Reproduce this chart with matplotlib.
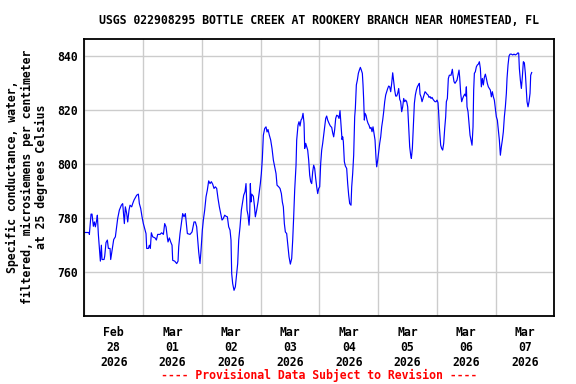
import matplotlib
matplotlib.use('Agg')
import matplotlib.pyplot as plt
import matplotlib.dates as mdates
import matplotlib.ticker as mticker
import pandas as pd

# --- data: hours since 2026-02-28 00:00, specific conductance (uS/cm) ---
hours = [
    0.15, 1.92, 2.06, 2.74, 3.14, 3.69, 4.10, 4.51, 5.05, 5.32, 5.73, 6.28, 6.55, 6.96,
    7.23, 8.05, 8.32, 8.86, 9.41, 9.82, 10.50, 10.77, 11.45, 12.00, 12.68, 13.22, 13.63,
    14.31, 15.13, 15.67, 16.35, 16.76, 17.31, 17.72, 18.26, 18.67, 19.35, 19.76, 20.30,
    21.39, 22.07, 22.48, 23.03, 23.57, 24.11, 24.66, 25.20, 25.48, 26.16, 26.57, 26.97,
    27.38, 27.93, 28.88, 29.43, 29.97, 30.92, 31.60, 32.30, 32.83, 33.37, 33.92, 34.19,
    34.74, 35.28, 35.83, 36.10, 36.92, 37.73, 38.28, 38.55, 39.09, 39.64, 40.18, 40.73,
    41.27, 42.09, 43.18, 44.00, 44.81, 45.36, 45.90, 46.31, 46.72, 47.26,
    47.67, 48.21, 48.62, 49.17, 49.71, 50.25, 50.80, 51.35, 51.89, 52.43, 52.98, 53.52,
    54.07, 54.61, 55.16, 55.70, 56.25, 56.79, 57.34, 57.88, 58.43, 58.97, 59.51, 59.92,
    60.20, 60.60, 61.15, 61.69, 62.24, 62.65, 63.06, 63.60, 64.15, 64.69, 65.10, 65.64,
    66.05, 66.46, 66.87, 67.28, 67.55, 67.82, 68.09, 68.37, 69.05, 69.46, 69.86, 70.41,
    70.95, 71.50, 71.90, 72.31, 72.72, 73.13, 73.68, 74.22, 74.63, 75.04, 75.58, 76.13,
    76.67, 77.22, 77.76, 78.31, 78.72, 79.40, 79.94, 80.49, 80.89, 81.30, 81.71, 82.12,
    82.66, 83.21, 83.62, 84.16, 84.71, 85.12, 85.52, 85.93, 86.48, 86.75, 87.29, 87.70,
    88.11, 88.52, 88.93, 89.34, 89.75, 90.02, 90.43, 90.84, 91.24, 91.65, 92.06, 92.47,
    92.88, 93.29, 93.69, 94.10, 94.51, 94.92, 95.33, 95.74, 96.15,
    96.55, 96.96, 97.37, 97.78, 98.19, 98.60, 99.00, 99.41, 99.96, 100.50, 101.05,
    101.45, 101.86, 102.27, 102.68, 103.09, 103.63, 104.04, 104.45, 104.86, 105.27,
    105.54, 105.81, 106.22, 106.63, 107.17, 107.58, 107.99, 108.40, 108.94, 109.22,
    109.62, 110.03, 110.44, 110.71, 111.12, 111.53, 111.94, 112.35, 112.76, 113.16,
    113.57, 113.85, 114.12, 114.39, 114.66, 115.07, 115.48, 115.89, 116.30, 116.71,
    117.12, 117.52, 117.93, 118.34, 118.75, 119.16, 119.43, 119.84, 120.25, 120.66,
    121.07, 121.47, 121.88, 122.29, 122.70, 123.11, 123.52, 123.93, 124.33, 124.74,
    125.15, 125.56, 125.97, 126.38, 126.78, 127.19, 127.60, 128.01, 128.42, 128.83,
    129.23, 129.64, 130.05, 130.46, 130.87, 131.28, 131.68, 132.09, 132.50, 132.91,
    133.32, 133.59, 134.00, 134.41, 134.82, 135.23, 135.64, 136.04, 136.45, 136.86,
    137.13, 137.54, 137.95, 138.36, 138.77, 139.18, 139.58, 139.99, 140.40, 140.81,
    141.22, 141.63, 142.03, 142.44, 142.85, 143.26, 143.67, 144.08, 144.48, 144.76,
    145.03,
    145.57, 145.98, 146.39, 146.80, 147.21, 147.61, 147.89, 148.30, 148.70, 149.11,
    149.79, 150.34, 150.61, 151.02, 151.43, 151.84, 152.24, 152.65, 153.06, 153.33,
    153.74, 154.15, 154.56, 154.97, 155.38, 155.78, 156.06, 156.33, 156.74, 157.15,
    157.56, 157.96, 158.37, 158.78, 159.05, 159.33, 159.73, 160.14, 160.55, 160.96,
    161.37, 161.78, 162.18, 162.59, 163.00, 163.41, 163.82, 164.23, 164.63, 165.04,
    165.45, 165.86, 166.27, 166.68, 167.09, 167.49, 167.90, 168.31, 168.72, 169.13,
    169.54, 169.95, 170.35, 170.76, 171.17, 171.58, 171.99, 172.40, 172.67, 173.08,
    173.49, 173.90, 174.45, 174.99, 175.53, 176.08, 176.62, 177.17, 177.44, 177.71,
    178.12, 178.53, 178.93, 179.34, 179.75, 180.16, 180.57, 180.84, 181.25, 181.66,
    182.07, 182.34, 182.75,
]
values = [
    774.7, 774.7, 774.0, 781.5, 781.5, 777.0, 778.6, 776.8, 779.3, 781.1, 774.0, 767.5, 764.1, 770.0,
    764.7, 764.7, 765.9, 771.0, 771.9, 768.8, 768.8, 764.7, 768.8, 772.1, 773.1, 776.8, 779.9,
    783.0, 784.8, 785.4, 778.0, 784.2, 781.7, 778.6, 783.0, 784.8, 784.2, 785.4, 786.7,
    788.5, 788.9, 785.4, 783.6, 780.5, 778.0, 776.2, 774.3, 768.8, 768.8, 770.0, 768.8,
    774.6, 773.1, 772.7, 771.9, 774.0, 774.0, 774.6, 774.0, 778.0, 776.8, 772.8, 771.2,
    772.7, 771.2, 770.0, 764.4, 764.1, 763.2, 764.1, 769.4, 774.3, 778.0, 781.7, 780.5,
    781.7, 774.3, 774.0, 774.9, 778.6, 778.6, 776.8, 771.9, 767.5, 763.2,
    768.1, 775.6, 779.3, 783.0, 787.9, 790.4, 793.8, 792.8, 793.5, 792.6, 791.0, 791.6,
    791.0, 787.3, 784.2, 781.7, 779.3, 779.9, 781.1, 780.7, 780.5, 776.8, 775.6, 771.9,
    759.5, 755.8, 753.3, 754.6, 759.5, 763.2, 771.9, 776.8, 783.0, 786.0, 788.5, 789.8,
    792.8, 783.0, 781.1, 777.4, 781.1, 792.8, 786.0, 788.9, 788.1, 784.8, 780.5, 783.0,
    786.0, 789.8, 792.8, 796.5, 802.1, 810.7, 813.2, 813.8, 811.9, 812.8, 810.7, 808.9,
    805.8, 801.5, 799.0, 796.5, 792.2, 791.6, 791.0, 789.1, 786.0, 784.2, 778.0, 774.9,
    774.3, 769.4, 765.7, 763.0, 765.1, 771.9, 780.5, 790.4, 799.6, 808.9, 814.4, 815.7,
    814.1, 816.3, 816.9, 818.8, 815.1, 805.8, 807.7, 806.4, 805.2, 801.5, 795.9, 793.5,
    792.8, 797.2, 799.6, 798.4, 794.7, 791.6, 789.1, 791.0, 791.6,
    800.2, 805.2, 807.7, 810.7, 813.8, 816.9, 817.8, 816.3, 815.1, 814.1, 813.6,
    811.6, 810.1, 812.8, 816.9, 818.1, 817.8, 816.9, 819.8, 814.4, 809.1,
    810.1, 808.3, 800.9, 799.3, 798.4, 792.8, 788.5, 785.4, 784.8, 791.6,
    796.5, 803.3, 817.5, 820.6, 829.3, 831.1, 833.6, 834.8, 835.8, 834.8,
    833.6, 829.3, 823.7, 816.3, 818.8, 818.1, 816.3, 815.1, 814.4, 813.2,
    813.6, 812.0, 813.8, 811.4, 808.9, 802.1, 799.0, 801.5, 804.6, 807.7,
    810.1, 813.8, 816.3, 819.4, 823.1, 825.6, 826.8, 828.0, 828.9, 828.6,
    826.8, 829.9, 833.8, 830.5, 827.4, 825.2, 825.2, 826.2, 828.0, 824.0,
    823.1, 819.4, 821.2, 824.3, 823.1, 823.7, 823.1, 821.2, 813.8, 806.4,
    803.3, 802.1, 805.8, 814.4, 822.5, 825.6, 827.4, 828.6, 829.3, 829.9,
    825.9, 824.9, 823.1, 824.3, 825.6, 826.8, 826.4, 825.9, 825.6, 824.7,
    825.0, 824.3, 824.7, 824.0, 823.5, 823.1, 823.1, 823.7, 822.7, 818.8,
    813.8,
    807.0, 805.8, 805.2, 807.7, 813.2, 817.5, 823.1, 824.3, 831.7, 832.9,
    832.9, 835.1, 832.9, 830.5, 829.9, 830.5, 831.1, 832.9, 834.8, 832.1,
    826.2, 823.1, 824.3, 825.2, 825.9, 825.2, 828.6, 821.2, 819.4, 815.1,
    810.7, 808.9, 807.0, 813.8, 827.4, 833.6, 834.2, 836.0, 836.7, 837.0,
    837.9, 835.4, 828.6, 831.7, 829.3, 832.1, 833.3, 831.7, 829.9, 828.6,
    828.0, 827.4, 824.9, 826.8, 824.9, 823.7, 820.6, 817.5, 816.3, 812.6,
    808.9, 803.3, 806.4, 808.9, 812.0, 817.5, 821.2, 826.2, 831.7, 836.7,
    840.0, 840.7, 840.7, 840.4, 840.7, 840.4, 840.7, 841.2, 841.0, 835.4,
    831.1, 828.0, 832.3, 837.9, 837.5, 833.6, 827.4, 823.1, 821.2, 823.1,
    826.2, 832.9, 833.9,
]
y_ticks = [760, 780, 800, 820, 840]
title = 'USGS 022908295 BOTTLE CREEK AT ROOKERY BRANCH NEAR HOMESTEAD, FL'
y_label = 'Specific conductance, water,\nfiltered, microsiemens per centimeter\nat 25 degrees Celsius'
note = '---- Provisional Data Subject to Revision ----'

start = pd.Timestamp('2026-02-28')
times = start + pd.to_timedelta(hours, unit='h')

plt.rcParams['font.family'] = 'DejaVu Sans Mono'
plt.rcParams['font.weight'] = 'bold'
fs = 8.3

fig = plt.figure(figsize=(5.76, 3.84), dpi=100)
ax = fig.add_axes([0.1464, 0.1771, 0.816, 0.7206])

ax.plot(times, values, color='#0000ff', lw=0.85)

ax.set_xlim(start, start + pd.Timedelta(days=8))
ax.set_ylim(743.8, 846.2)
ax.set_yticks(y_ticks)

# gridlines at midnight, labels at noon
ax.xaxis.set_major_locator(mdates.DayLocator())
ax.xaxis.set_major_formatter(mticker.NullFormatter())
ax.xaxis.set_minor_locator(mdates.HourLocator(byhour=[12]))
ax.xaxis.set_minor_formatter(mdates.DateFormatter('%b\n%d\n%Y'))
ax.tick_params(axis='both', which='both', length=0, labelsize=fs)
ax.tick_params(axis='x', which='minor', pad=7)
ax.tick_params(axis='y', pad=5)
ax.grid(True, which='major', color='#cccccc', lw=1.0)
for sp in ax.spines.values():
    sp.set_linewidth(1.3)

fig.text(319 / 576, 1 - 20 / 384, title, ha='center', va='center', fontsize=fs)
fig.text(27 / 576, 1 - 177 / 384, y_label, ha='center', va='center', rotation=90,
         multialignment='center', fontsize=fs, linespacing=1.1)
fig.text(319 / 576, 1 - 375 / 384, note, ha='center', va='center', fontsize=fs, color='red')

fig.savefig('out.png', dpi=100)
